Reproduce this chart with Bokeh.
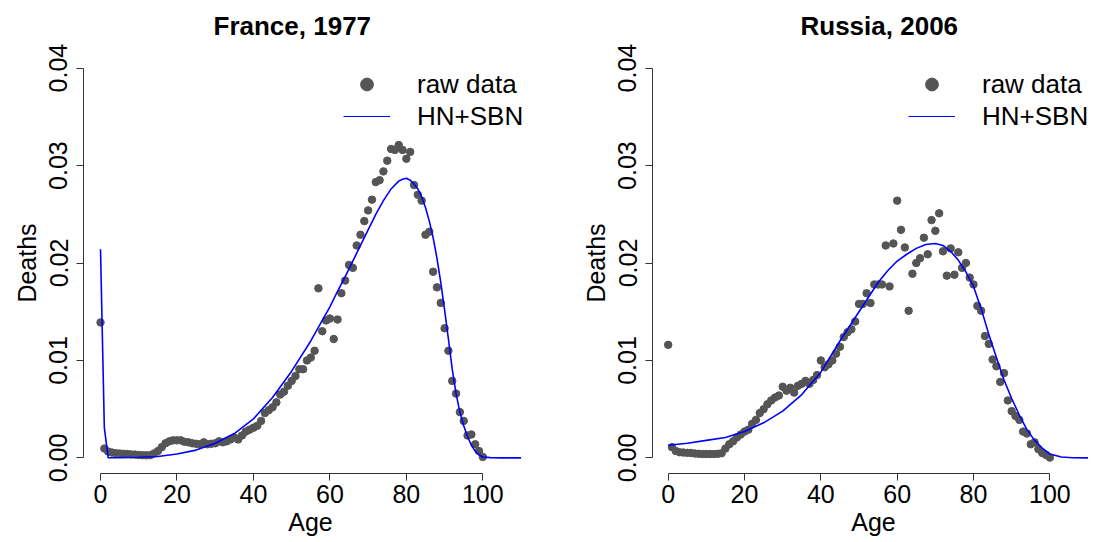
from bokeh.plotting import figure
from bokeh.layouts import row
from bokeh.models import (Range1d, FixedTicker, PrintfTickFormatter, Legend, LegendItem,
                          ColumnDataSource, Title)
from bokeh.embed import file_html
from bokeh.resources import INLINE

# ---------------- data ----------------
fr_title = "France, 1977"
ru_title = "Russia, 2006"

ages = list(range(0, 101))

fr_deaths = [
    0.0139, 0.00096, 0.00065, 0.00055, 0.00048, 0.00045, 0.00042, 0.00040, 0.00036, 0.00034,
    0.00030, 0.00028, 0.00026, 0.00028, 0.00045, 0.00070, 0.00110, 0.00150, 0.00170, 0.00180,
    0.00180, 0.00180, 0.00165, 0.00160, 0.00150, 0.00145, 0.00140, 0.00160, 0.00140, 0.00145,
    0.00150, 0.00170, 0.00160, 0.00170, 0.00190, 0.00210, 0.00190, 0.00230, 0.00270, 0.00290,
    0.00310, 0.00330, 0.00380, 0.00460, 0.00490, 0.00520, 0.00570, 0.00650, 0.00680, 0.00740,
    0.00790, 0.00840, 0.00910, 0.00910, 0.01000, 0.01030, 0.01100, 0.01740, 0.01300, 0.01410,
    0.01430, 0.01220, 0.01420, 0.01690, 0.01820, 0.01980, 0.01950, 0.02180, 0.02290, 0.02430,
    0.02540, 0.02650, 0.02830, 0.02850, 0.02940, 0.03050, 0.03170, 0.03160, 0.03210, 0.03160,
    0.03070, 0.03140, 0.02800, 0.02700, 0.02640, 0.02290, 0.02320, 0.01910, 0.01750, 0.01590,
    0.01330, 0.01100, 0.00790, 0.00660, 0.00470, 0.00380, 0.00230, 0.00240, 0.00140, 0.00070,
    0.00010,
]

ru_deaths = [
    0.0116, 0.00110, 0.00070, 0.00058, 0.00055, 0.00052, 0.00050, 0.00045, 0.00042, 0.00040,
    0.00040, 0.00040, 0.00040, 0.00042, 0.00048, 0.00096, 0.00140, 0.00170, 0.00210, 0.00240,
    0.00270, 0.00290, 0.00350, 0.00390, 0.00460, 0.00500, 0.00550, 0.00590, 0.00620, 0.00640,
    0.00730, 0.00690, 0.00720, 0.00670, 0.00740, 0.00760, 0.00790, 0.00760, 0.00800, 0.00850,
    0.01000, 0.00930, 0.00960, 0.01000, 0.01070, 0.01140, 0.01240, 0.01290, 0.01320, 0.01400,
    0.01580, 0.01580, 0.01690, 0.01590, 0.01780, 0.01780, 0.01780, 0.02180, 0.01760, 0.02200,
    0.02640, 0.02340, 0.02160, 0.01510, 0.01890, 0.02000, 0.02050, 0.02260, 0.02090, 0.02440,
    0.02330, 0.02510, 0.02120, 0.01870, 0.02150, 0.01880, 0.02110, 0.01950, 0.02000, 0.01850,
    0.01780, 0.01560, 0.01510, 0.01250, 0.01170, 0.01010, 0.00940, 0.00780, 0.00870, 0.00590,
    0.00480, 0.00430, 0.00390, 0.00270, 0.00250, 0.00140, 0.00160, 0.00090, 0.00050, 0.00030,
    0.00003,
]

fr_fit_age = [0, 1, 2, 5, 10, 15, 20, 25, 30, 35, 40, 45, 50, 55, 60, 62, 64, 66, 68, 70,
              72, 74, 76, 78, 79, 80, 81, 82, 83, 84, 85, 86, 87, 88, 89, 90, 91, 92, 93,
              94, 95, 96, 97, 98, 99, 100, 102, 105, 110]
fr_fit = [0.0214, 0.0031, 0.00002, 0.00003, 0.00006, 0.00015, 0.0004, 0.0008, 0.0015, 0.0025,
          0.0040, 0.0062, 0.0089, 0.0120, 0.0155, 0.0171, 0.0186, 0.0202, 0.0218, 0.0234,
          0.0250, 0.0264, 0.0276, 0.0284, 0.0286, 0.0287, 0.0285, 0.0281, 0.0276, 0.0268,
          0.0257, 0.0243, 0.0226, 0.0205, 0.0180, 0.0152, 0.0122, 0.0091, 0.0066,
          0.0047, 0.0033, 0.0022, 0.0013, 0.0007, 0.0003, 0.0001, 0.00003, 0.0, 0.0]

ru_fit_age = [0, 5, 10, 15, 20, 25, 30, 35, 40, 45, 50, 55, 57.5, 60, 62.5, 65, 67.5, 70, 72,
              74, 76, 78, 80, 82, 84, 86, 88, 90, 92, 94, 96, 98, 100, 103, 106, 110]
ru_fit = [0.0013, 0.0015, 0.0018, 0.0021, 0.0027, 0.0036, 0.0048, 0.0065, 0.0088, 0.0120,
          0.0150, 0.0180, 0.0192, 0.0202, 0.0209, 0.0215, 0.0219, 0.0220, 0.0218,
          0.0212, 0.0203, 0.0191, 0.0176, 0.0153, 0.0127, 0.0103, 0.0080, 0.0061, 0.0044,
          0.0029, 0.0018, 0.0010, 0.0004, 0.0001, 0.00002, 0.0]

x_ticks = [0, 20, 40, 60, 80, 100]
y_ticks = [0.0, 0.01, 0.02, 0.03, 0.04]
legend_labels = ["raw data", "HN+SBN"]

FONT = "Liberation Sans"
PT_COLOR = "#555555"
LINE_COLOR = "#0000FF"
AX_COLOR = "#333333"
NAN = float("nan")


def make_panel(title, deaths, fit_age, fit, width, border_left, border_right, x_start, x_end,
               title_offset, legend_x):
    p = figure(width=width, height=542, output_backend="svg", toolbar_location=None,
               x_range=Range1d(x_start, x_end), y_range=Range1d(-0.0016, 0.0416),
               min_border_left=border_left, min_border_right=border_right,
               min_border_top=52, min_border_bottom=69)
    p.outline_line_color = None
    p.grid.grid_line_color = None
    p.background_fill_color = "white"
    p.border_fill_color = "white"

    xa = p.below[0]
    ya = p.left[0]
    for ax in (xa, ya):
        ax.axis_line_color = AX_COLOR
        ax.major_tick_line_color = AX_COLOR
        ax.minor_tick_line_color = None
        ax.major_tick_in = 0
        ax.major_tick_out = 7
        ax.major_label_text_font = FONT
        ax.major_label_text_font_size = "25px"
        ax.major_label_text_color = "black"
        ax.axis_label_text_font = FONT
        ax.axis_label_text_font_size = "25px"
        ax.axis_label_text_font_style = "normal"
        ax.axis_label_text_color = "black"

    xa.ticker = FixedTicker(ticks=x_ticks)
    xa.bounds = (0, 100)
    xa.axis_label = "Age"
    xa.major_label_standoff = 4
    xa.axis_label_standoff = 2

    ya.ticker = FixedTicker(ticks=y_ticks)
    ya.bounds = (0, 0.04)
    ya.formatter = PrintfTickFormatter(format="%.2f")
    ya.major_label_orientation = "vertical"
    ya.axis_label = "Deaths"
    ya.major_label_standoff = 9
    ya.axis_label_standoff = 6

    ttl = Title(text=title, text_font=FONT, text_font_size="26px", text_font_style="bold",
                text_color="black", align="left", offset=title_offset, standoff=20,
                vertical_align="top")
    p.add_layout(ttl, "above")

    src = ColumnDataSource(dict(age=ages, deaths=deaths))
    p.scatter("age", "deaths", source=src, size=7.5, color=PT_COLOR)
    fsrc = ColumnDataSource(dict(age=fit_age, fit=fit))
    p.line("age", "fit", source=fsrc, line_color=LINE_COLOR, line_width=1.6)

    # legend proxies (not drawn in the frame: NaN coordinates)
    proxy = ColumnDataSource(dict(x=[NAN], y=[NAN]))
    r_pt = p.scatter("x", "y", source=proxy, size=12, color=PT_COLOR)
    r_ln = p.line("x", "y", source=proxy, line_color=LINE_COLOR, line_width=1)
    leg = Legend(items=[LegendItem(label=legend_labels[0], renderers=[r_pt]),
                        LegendItem(label=legend_labels[1], renderers=[r_ln])],
                 location=(legend_x, 341), orientation="vertical",
                 glyph_width=47, glyph_height=32, label_height=32, spacing=0,
                 padding=0, margin=0, label_standoff=27,
                 label_text_font=FONT, label_text_font_size="26px",
                 label_text_color="black",
                 border_line_color=None, background_fill_alpha=0)
    p.add_layout(leg)
    return p


p1 = make_panel(fr_title, fr_deaths, fr_fit_age, fr_fit, 547, 83, 10, -4.45, 114.3, 130, 260)
p2 = make_panel(ru_title, ru_deaths, ru_fit_age, ru_fit, 547, 105, 0, -4.11, 111.7, 148, 256)

layout = row(p1, p2)
open("out.html", "w").write(file_html(layout, INLINE))
